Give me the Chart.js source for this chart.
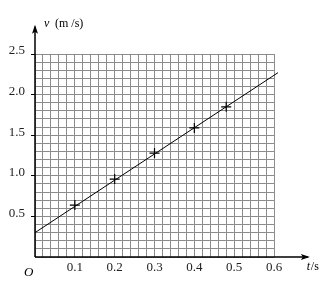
<!DOCTYPE html>
<html>
<head>
<meta charset="utf-8">
<script src="https://cdn.jsdelivr.net/npm/chart.js@4/dist/chart.umd.min.js"></script>
<style>
  html, body { margin: 0; padding: 0; background: #fff; }
  canvas { display: block; }
</style>
</head>
<body>
<canvas id="vtChart" width="329" height="281"></canvas>
<script>
// measured points (t in s, v in m/s)
var pointT = [0.1, 0.2, 0.3, 0.4, 0.48];
var pointV = [0.64, 0.96, 1.28, 1.59, 1.85];

// fitted straight line, drawn past the grid on the right
var fitT = [0, 0.61];
var fitV = [0.30, 2.27];

// how far the axis arrows reach
var AXIS_END_T = 0.69;
var AXIS_END_V = 2.86;

var SERIF = '"Liberation Serif", "DejaVu Serif", serif';

function isMajor(value, step){
    var r = value / step;
    return value > 0 && Math.abs(r - Math.round(r)) < 1e-6;
}

var axisArrows = {
    id : 'axisArrows',
    afterDraw : function(chart){
        var ctx = chart.ctx;
        var xs = chart.scales.x, ys = chart.scales.y;
        var x0 = xs.getPixelForValue(0), y0 = ys.getPixelForValue(0);
        var xEnd = xs.getPixelForValue(AXIS_END_T);
        var yEnd = ys.getPixelForValue(AXIS_END_V);

        ctx.save();
        ctx.strokeStyle = '#000';
        ctx.fillStyle = '#000';
        ctx.lineWidth = 1.5;

        ctx.beginPath();
        ctx.moveTo(x0, y0);
        ctx.lineTo(x0, yEnd + 2);
        ctx.moveTo(x0, y0);
        ctx.lineTo(xEnd - 2, y0);
        ctx.stroke();

        // arrow heads
        ctx.beginPath();
        ctx.moveTo(x0, yEnd);
        ctx.lineTo(x0 - 3, yEnd + 9);
        ctx.lineTo(x0, yEnd + 7);
        ctx.lineTo(x0 + 3, yEnd + 9);
        ctx.closePath();
        ctx.fill();

        ctx.beginPath();
        ctx.moveTo(xEnd, y0);
        ctx.lineTo(xEnd - 9, y0 - 3);
        ctx.lineTo(xEnd - 7, y0);
        ctx.lineTo(xEnd - 9, y0 + 3);
        ctx.closePath();
        ctx.fill();

        // axis names
        ctx.textBaseline = 'alphabetic';
        ctx.textAlign = 'left';
        ctx.font = 'italic 12px ' + SERIF;
        ctx.fillText('v', x0 + 9, yEnd + 2);
        ctx.font = '12px ' + SERIF;
        ctx.fillText('(m /s)', x0 + 20, yEnd + 2);

        ctx.font = 'italic 12px ' + SERIF;
        ctx.fillText('t', xEnd - 3, y0 + 13);
        ctx.font = '12px ' + SERIF;
        ctx.fillText('/s', xEnd + 1, y0 + 13);

        ctx.font = 'italic 13px ' + SERIF;
        ctx.fillText('O', x0 - 11, y0 + 19);
        ctx.restore();
    }
};

var pointData = pointT.map(function(t, i){ return {x : t, y : pointV[i]}; });
var fitData = fitT.map(function(t, i){ return {x : t, y : fitV[i]}; });

new Chart(document.getElementById('vtChart'), {
    type : 'scatter',
    data : {
        datasets : [
            {
                data : fitData,
                showLine : true,
                borderColor : '#000',
                borderWidth : 1,
                pointRadius : 0,
                clip : false
            },
            {
                data : pointData,
                pointStyle : 'cross',
                pointRadius : 5,
                borderColor : '#000',
                borderWidth : 1.2
            }
        ]
    },
    options : {
        responsive : false,
        animation : false,
        devicePixelRatio : 1,
        layout : { padding : { left : 0, top : 54, right : 55, bottom : 0 } },
        plugins : { legend : { display : false }, tooltip : { enabled : false } },
        scales : {
            x : {
                type : 'linear',
                min : 0,
                max : 0.6,
                afterFit : function(scale){ scale.height = 24; },
                grid : { color : '#8c8c8c', lineWidth : 1, drawTicks : false },
                border : { display : false },
                ticks : {
                    stepSize : 0.02,
                    autoSkip : false,
                    maxRotation : 0,
                    padding : 3,
                    color : '#222',
                    font : { family : SERIF, size : 13 },
                    callback : function(value){ return isMajor(value, 0.1) ? value.toFixed(1) : ''; }
                }
            },
            y : {
                type : 'linear',
                min : 0,
                max : 2.5,
                afterFit : function(scale){ scale.width = 35; },
                grid : {
                    color : '#8c8c8c',
                    lineWidth : 1,
                    tickLength : 4,
                    tickColor : function(c){ return isMajor(c.tick.value, 0.5) ? '#000' : 'rgba(0,0,0,0)'; }
                },
                border : { display : false },
                ticks : {
                    stepSize : 0.1,
                    autoSkip : false,
                    padding : 6,
                    labelOffset : -3,
                    color : '#222',
                    font : { family : SERIF, size : 13 },
                    callback : function(value){ return isMajor(value, 0.5) ? value.toFixed(1) : ''; }
                }
            }
        }
    },
    plugins : [axisArrows]
});
</script>
</body>
</html>
